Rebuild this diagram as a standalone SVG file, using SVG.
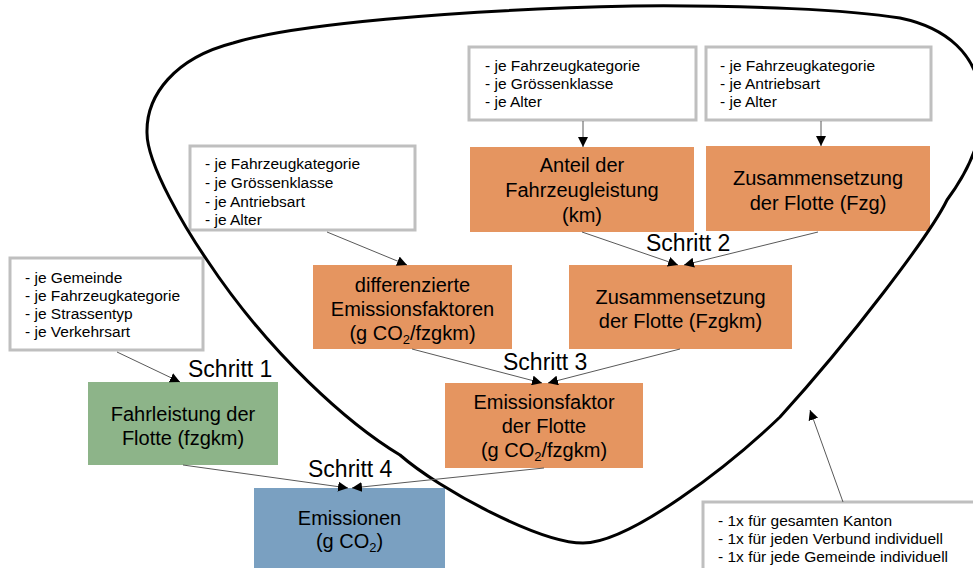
<svg xmlns="http://www.w3.org/2000/svg" width="973" height="568" viewBox="0 0 973 568">
<defs>
<style>
text{font-family:"Liberation Sans",Arial,sans-serif;fill:#000}
.lst{font-size:15.5px}
.big{font-size:20px;text-anchor:middle}
.step{font-size:23px}
.gbox{fill:#fff;stroke:#bfbfbf;stroke-width:3}
.or{fill:#e59560}
.gr{fill:#8db489}
.bl{fill:#7aa0c1}
.con{stroke:#595959;stroke-width:1;fill:none;marker-end:url(#ah)}
</style>
<marker id="ah" markerUnits="userSpaceOnUse" markerWidth="11" markerHeight="10" refX="10" refY="5" orient="auto">
<path d="M0,0 L10,5 L0,10 z" fill="#000"/>
</marker>
</defs>
<rect width="973" height="568" fill="#fff"/>

<g id="boxA">
<rect class="gbox" x="10" y="258" width="193" height="92"/>
<text class="lst" x="25" y="283">- je Gemeinde</text>
<text class="lst" x="25" y="301">- je Fahrzeugkategorie</text>
<text class="lst" x="25" y="319">- je Strassentyp</text>
<text class="lst" x="25" y="337">- je Verkehrsart</text>
</g>
<g id="boxB">
<rect class="gbox" x="190" y="146" width="225" height="84"/>
<text class="lst" x="205" y="169">- je Fahrzeugkategorie</text>
<text class="lst" x="205" y="188">- je Grössenklasse</text>
<text class="lst" x="205" y="207">- je Antriebsart</text>
<text class="lst" x="205" y="225">- je Alter</text>
</g>
<g id="boxC">
<rect class="gbox" x="469" y="47" width="227" height="73"/>
<text class="lst" x="485" y="70.5">- je Fahrzeugkategorie</text>
<text class="lst" x="485" y="89">- je Grössenklasse</text>
<text class="lst" x="485" y="107">- je Alter</text>
</g>
<g id="boxD">
<rect class="gbox" x="706" y="47" width="225" height="73"/>
<text class="lst" x="720" y="70.5">- je Fahrzeugkategorie</text>
<text class="lst" x="720" y="89">- je Antriebsart</text>
<text class="lst" x="720" y="107">- je Alter</text>
</g>
<g id="boxE">
<rect class="gbox" x="703" y="502" width="290" height="80"/>
<text class="lst" x="718" y="525.5">- 1x für gesamten Kanton</text>
<text class="lst" x="718" y="543.5">- 1x für jeden Verbund individuell</text>
<text class="lst" x="718" y="562">- 1x für jede Gemeinde individuell</text>
</g>

<g id="fahrleistung">
<rect class="gr" x="88" y="382" width="190" height="83"/>
<text class="big" x="183" y="421">Fahrleistung der</text>
<text class="big" x="183" y="445">Flotte (fzgkm)</text>
</g>
<g id="diffEF">
<rect class="or" x="313" y="265" width="199" height="84"/>
<text class="big" x="412.5" y="292">differenzierte</text>
<text class="big" x="412.5" y="316">Emissionsfaktoren</text>
<text class="big" x="412.5" y="340">(g CO<tspan font-size="13" dy="4">2</tspan><tspan dy="-4">/fzgkm)</tspan></text>
</g>
<g id="anteil">
<rect class="or" x="470" y="147" width="224" height="85"/>
<text class="big" x="582" y="172">Anteil der</text>
<text class="big" x="582" y="197">Fahrzeugleistung</text>
<text class="big" x="582" y="222">(km)</text>
</g>
<g id="zusFzg">
<rect class="or" x="706" y="146" width="224" height="85"/>
<text class="big" x="818" y="185">Zusammensetzung</text>
<text class="big" x="818" y="210">der Flotte (Fzg)</text>
</g>
<g id="zusFzgkm">
<rect class="or" x="569" y="265" width="223" height="84"/>
<text class="big" x="680.5" y="304">Zusammensetzung</text>
<text class="big" x="680.5" y="328">der Flotte (Fzgkm)</text>
</g>
<g id="efFlotte">
<rect class="or" x="445" y="383" width="198" height="85"/>
<text class="big" x="544" y="409">Emissionsfaktor</text>
<text class="big" x="544" y="433">der Flotte</text>
<text class="big" x="544" y="457">(g CO<tspan font-size="13" dy="4">2</tspan><tspan dy="-4">/fzgkm)</tspan></text>
</g>
<g id="emissionen">
<rect class="bl" x="254" y="488" width="191" height="80"/>
<text class="big" x="349.5" y="525">Emissionen</text>
<text class="big" x="349.5" y="548">(g CO<tspan font-size="13" dy="4">2</tspan><tspan dy="-4">)</tspan></text>
</g>

<g id="steps">
<text class="step" x="188" y="377">Schritt 1</text>
<text class="step" x="646" y="251">Schritt 2</text>
<text class="step" x="503" y="370">Schritt 3</text>
<text class="step" x="308" y="477">Schritt 4</text>
</g>

<g id="boundary">
<path d="M633,6 C750,5 850,10 900,18 C948,28 976,55 981,95 C986,130 973,165 947,200 C930,235 850,340 780,417 C730,465 630,543 583,543 C540,543 440,490 400,455 C350,425 270,355 207,260 C187,231 147,165 147,133 C146,95 175,58 233,43 C290,25 450,10 633,6 Z" fill="none" stroke="#000" stroke-width="3"/>
</g>

<g id="connectors">
<line class="con" x1="117" y1="352" x2="180" y2="382"/>
<line class="con" x1="327" y1="232" x2="407" y2="265"/>
<line class="con" x1="583" y1="121" x2="583" y2="147"/>
<line class="con" x1="821" y1="121" x2="821" y2="146"/>
<line class="con" x1="582" y1="232" x2="678" y2="265"/>
<line class="con" x1="818" y1="232" x2="684" y2="265"/>
<line class="con" x1="412" y1="349" x2="542" y2="383"/>
<line class="con" x1="680" y1="349" x2="548" y2="383"/>
<line class="con" x1="183" y1="465" x2="348" y2="488"/>
<line class="con" x1="544" y1="468" x2="352" y2="488"/>
<line class="con" x1="843" y1="502" x2="810" y2="410"/>
</g>
</svg>
